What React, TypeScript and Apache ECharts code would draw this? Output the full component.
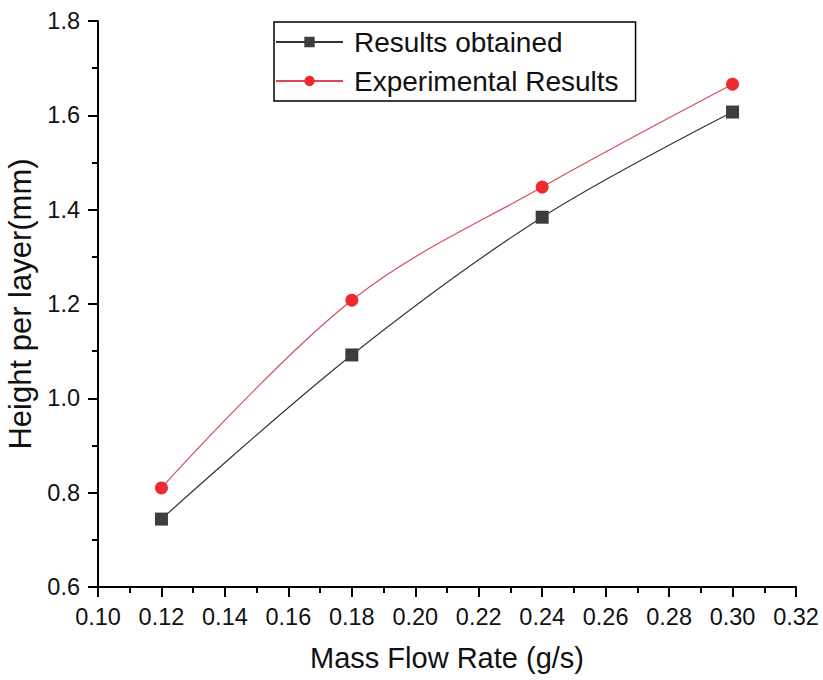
import React, { useEffect, useRef } from "react";
import * as echarts from "echarts";

const massFlow = [0.12, 0.18, 0.24, 0.3];
const resultsObtained = [0.744, 1.092, 1.384, 1.607];
const experimentalResults = [0.81, 1.208, 1.448, 1.666];
const seriesNames = ["Results obtained", "Experimental Results"];

const FONT = "Liberation Sans, Arial, sans-serif";

export default function App() {
  const ref = useRef<HTMLDivElement>(null);
  useEffect(() => {
    if (!ref.current) return;
    const chart = echarts.init(ref.current, undefined, { renderer: "svg" });
    const axisCommon = {
      axisLine: { show: true, lineStyle: { color: "#000", width: 2 } },
      axisTick: { show: true, inside: false, length: 10, lineStyle: { color: "#000", width: 2 } },
      minorTick: { show: true, splitNumber: 2, length: 6, lineStyle: { color: "#000", width: 2 } },
      splitLine: { show: false },
      axisLabel: { color: "#111", fontSize: 23.5, fontFamily: FONT, margin: 18 },
      nameTextStyle: { color: "#111", fontFamily: FONT },
    };
    chart.setOption({
      animation: false,
      backgroundColor: "#fff",
      grid: { left: 98, right: 27, top: 21, bottom: 93, containLabel: false, outerBoundsMode: "none" },
      legend: {
        orient: "vertical",
        left: 274,
        top: 22,
        data: seriesNames,
        borderColor: "#000",
        borderWidth: 1.5,
        padding: [6, 17, 6, 1],
        itemWidth: 67,
        itemHeight: 13,
        itemGap: 11,
        textStyle: { fontSize: 28, fontFamily: FONT, color: "#111", padding: [0, 0, 0, 6], lineHeight: 27 },
      },
      xAxis: {
        type: "value",
        min: 0.1,
        max: 0.32,
        interval: 0.02,
        name: "Mass Flow Rate (g/s)",
        nameLocation: "middle",
        nameGap: 56,
        ...axisCommon,
        nameTextStyle: { ...axisCommon.nameTextStyle, fontSize: 29 },
        axisLabel: { ...axisCommon.axisLabel, formatter: (v: number) => v.toFixed(2) },
      },
      yAxis: {
        type: "value",
        min: 0.6,
        max: 1.8,
        interval: 0.2,
        name: "Height per layer(mm)",
        nameLocation: "middle",
        nameGap: 52,
        ...axisCommon,
        nameTextStyle: { ...axisCommon.nameTextStyle, fontSize: 31 },
        axisLabel: { ...axisCommon.axisLabel, formatter: (v: number) => v.toFixed(1) },
      },
      series: [
        {
          name: seriesNames[0],
          type: "line",
          smooth: 0.35,
          data: massFlow.map((x, i) => [x, resultsObtained[i]]),
          symbol: "rect",
          symbolSize: 13,
          itemStyle: { color: "#3d3d3d" },
          lineStyle: { color: "#333", width: 1.2 },
        },
        {
          name: seriesNames[1],
          type: "line",
          smooth: 0.35,
          data: massFlow.map((x, i) => [x, experimentalResults[i]]),
          symbol: "circle",
          symbolSize: 13,
          itemStyle: { color: "#ee2a30" },
          lineStyle: { color: "#d94a55", width: 1.2 },
        },
      ],
    });
    return () => chart.dispose();
  }, []);
  return (
    <div
      ref={ref}
      style={{ position: "fixed", left: 0, top: 0, width: 823, height: 680 }}
    />
  );
}
